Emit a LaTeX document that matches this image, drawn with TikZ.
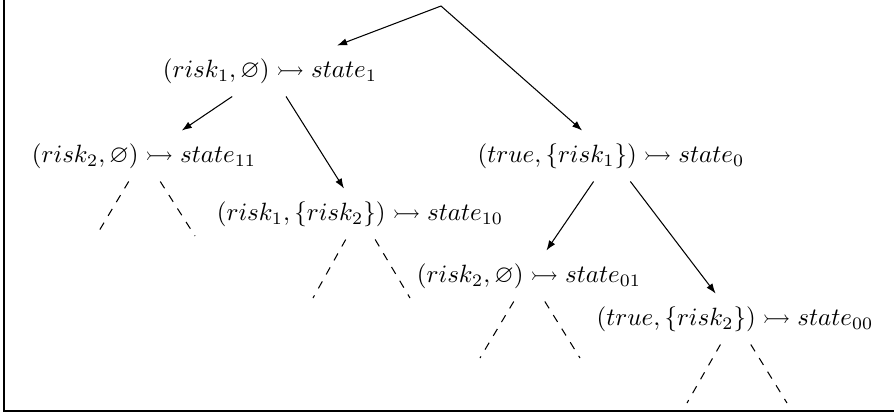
\documentclass[tikz,border=0pt]{standalone}
\usepackage{amssymb}
\usetikzlibrary{arrows.meta}
\begin{document}
\begin{tikzpicture}[x=0.4pt,y=-0.4pt,
  st/.style={inner xsep=2pt, inner ysep=5pt, text height=7.5pt, text depth=2.5pt},
  arr/.style={-{Latex[length=4pt,width=2.9pt]}, line width=0.42pt},
  dsh/.style={dash pattern=on 3.2pt off 3.2pt, line width=0.42pt},
  frame/.style={line width=0.8pt}]
\useasboundingbox (0,0) rectangle (894,415);
\draw[frame] (4,-2) -- (4,411) -- (896,411);
\coordinate (root) at (441,6);
\node[st] (n1)  at (270,71)  {$(risk_1,\varnothing)\rightarrowtail state_1$};
\node[st] (n11) at (144,156) {$(risk_2,\varnothing)\rightarrowtail state_{11}$};
\node[st] (n10) at (360,214) {$(risk_1,\{risk_2\})\rightarrowtail state_{10}$};
\node[st] (n0)  at (611,156) {$(true,\{risk_1\})\rightarrowtail state_0$};
\node[st] (n01) at (529,276) {$(risk_2,\varnothing)\rightarrowtail state_{01}$};
\node[st] (n00) at (735,319) {$(true,\{risk_2\})\rightarrowtail state_{00}$};
\draw[arr] (root) -- (n1);
\draw[arr] (root) -- (n0);
\draw[arr] (n1) -- (n11);
\draw[arr] (n1) -- (n10);
\draw[arr] (n0) -- (n01);
\draw[arr] (n0) -- (n00);
\coordinate (a1) at (96,236);  \coordinate (a2) at (195,236);
\coordinate (b1) at (313,298); \coordinate (b2) at (410,298);
\coordinate (c1) at (480,358); \coordinate (c2) at (580,358);
\coordinate (d1) at (687,403); \coordinate (d2) at (787,403);
\draw[dsh] (n11) -- (a1); \draw[dsh] (n11) -- (a2);
\draw[dsh] (n10) -- (b1); \draw[dsh] (n10) -- (b2);
\draw[dsh] (n01) -- (c1); \draw[dsh] (n01) -- (c2);
\draw[dsh] (n00) -- (d1); \draw[dsh] (n00) -- (d2);
\end{tikzpicture}
\end{document}
